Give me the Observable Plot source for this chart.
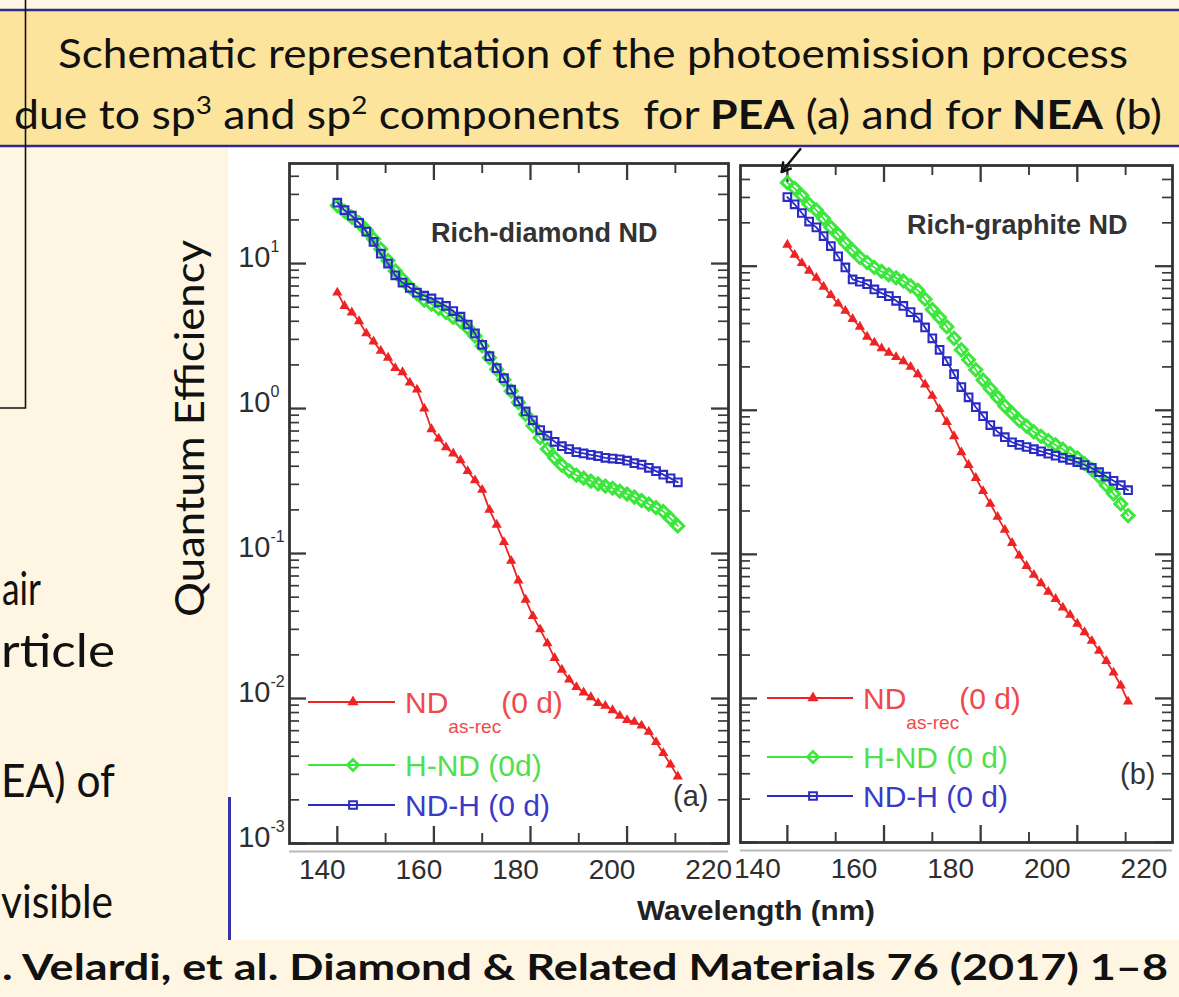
<!DOCTYPE html>
<html>
<head>
<meta charset="utf-8">
<script src="https://cdn.jsdelivr.net/npm/d3@7"></script>
<script src="https://cdn.jsdelivr.net/npm/@observablehq/plot@0.6"></script>
<style>
html, body { margin: 0; padding: 0; }
body { width: 1179px; height: 997px; position: relative; overflow: hidden; background: #FEF6E3; }
svg.layer { position: absolute; left: 0; top: 0; }
.panel { position: absolute; }
</style>
</head>
<body>
<svg id="bg" class="layer" width="1179" height="997"></svg>
<div id="pa" class="panel" style="left:228px; top:148px;"></div>
<div id="pb" class="panel" style="left:738px; top:148px;"></div>
<svg id="fg" class="layer" width="1179" height="997" style="pointer-events:none"></svg>
<script>
// ---------------- DATA ----------------
const wavelengths = [140, 141.5, 143, 144.5, 146, 147.5, 149, 150.5, 152, 153.5,
  155, 156.5, 158, 159.5, 161, 162.5, 164, 165.5, 167, 168.5,
  170, 171.5, 173, 174.5, 176, 177.5, 179, 180.5, 182, 183.5,
  185, 186.5, 188, 189.5, 191, 192.5, 194, 195.5, 197, 198.5,
  200, 201.5, 203, 204.5, 206, 207.5, 209, 210.5];

// Panel (a) Rich-diamond ND
const ndAsRecA = [6.3, 5.1, 4.6, 4.0, 3.3, 2.9, 2.5, 2.24, 1.9, 1.78,
  1.51, 1.35, 1.0, 0.72, 0.62, 0.54, 0.49, 0.44, 0.37, 0.32,
  0.275, 0.20, 0.158, 0.12, 0.089, 0.065, 0.048, 0.037, 0.030, 0.024,
  0.019, 0.0158, 0.0135, 0.012, 0.011, 0.0102, 0.0093, 0.0089, 0.0083, 0.0076,
  0.0071, 0.0069, 0.0065, 0.0059, 0.0050, 0.0042, 0.0035, 0.0029];
const hNdA = [25.1, 22.9, 20.9, 19.1, 17.0, 14.8, 12.6, 10.5, 8.9, 7.8,
  6.9, 6.2, 5.6, 5.25, 4.9, 4.6, 4.25, 4.0, 3.6, 3.16,
  2.7, 2.24, 1.86, 1.58, 1.32, 1.10, 0.91, 0.76, 0.63, 0.525,
  0.457, 0.407, 0.372, 0.347, 0.331, 0.316, 0.302, 0.292, 0.282, 0.269,
  0.257, 0.245, 0.232, 0.219, 0.207, 0.195, 0.174, 0.155];
const ndHA = [26.3, 23.4, 21.4, 19.1, 16.6, 14.1, 11.7, 10.0, 8.3, 7.4,
  6.8, 6.3, 6.0, 5.75, 5.4, 5.1, 4.7, 4.3, 3.8, 3.3,
  2.75, 2.3, 1.9, 1.62, 1.35, 1.12, 0.955, 0.83, 0.71, 0.65,
  0.59, 0.55, 0.525, 0.50, 0.49, 0.48, 0.47, 0.457, 0.452, 0.447,
  0.437, 0.42, 0.41, 0.39, 0.37, 0.35, 0.33, 0.31];

// Panel (b) Rich-graphite ND
const ndAsRecB = [14.1, 12.0, 10.5, 9.3, 8.3, 7.2, 6.3, 5.5, 4.9, 4.3,
  3.8, 3.24, 2.95, 2.69, 2.51, 2.34, 2.19, 2.0, 1.78, 1.51,
  1.26, 1.02, 0.83, 0.66, 0.51, 0.417, 0.339, 0.275, 0.224, 0.182,
  0.148, 0.120, 0.098, 0.083, 0.072, 0.063, 0.055, 0.049, 0.0427, 0.038,
  0.033, 0.0288, 0.0251, 0.0214, 0.0182, 0.0151, 0.0123, 0.0095];
const hNdB = [38.0, 34.7, 30.9, 26.9, 24.5, 21.4, 18.6, 16.6, 14.5, 12.9,
  11.5, 10.6, 9.8, 9.2, 8.7, 8.3, 7.9, 7.3, 6.8, 5.9,
  5.0, 4.4, 3.8, 3.16, 2.63, 2.24, 1.91, 1.62, 1.41, 1.23,
  1.07, 0.955, 0.85, 0.776, 0.708, 0.66, 0.617, 0.575, 0.537, 0.50,
  0.468, 0.427, 0.389, 0.347, 0.302, 0.263, 0.224, 0.186];
const ndHB = [30.2, 26.9, 23.4, 20.4, 18.6, 16.2, 13.8, 11.7, 9.8, 8.1,
  7.8, 7.5, 6.9, 6.5, 6.2, 5.75, 5.3, 4.8, 4.4, 3.76,
  3.16, 2.63, 2.19, 1.78, 1.45, 1.23, 1.05, 0.91, 0.79, 0.71,
  0.65, 0.60, 0.575, 0.556, 0.537, 0.519, 0.50, 0.484, 0.468, 0.452,
  0.437, 0.417, 0.398, 0.372, 0.347, 0.324, 0.302, 0.279];

const xMajorTicks = [140, 160, 180, 200];
const xMinorTicks = [150, 170, 190, 210];
const xTickLabels = [140, 160, 180, 200, 220];
const yDecades = [0.001, 0.01, 0.1, 1, 10];

const panelTitles = ["Rich-diamond ND", "Rich-graphite ND"];
const panelTags = ["(a)", "(b)"];
const legendA = [["ND", "as-rec", "(0 d)"], ["H-ND (0d)"], ["ND-H (0 d)"]];
const legendB = [["ND", "as-rec", "(0 d)"], ["H-ND (0 d)"], ["ND-H (0 d)"]];
const xAxisLabel = "Wavelength (nm)";
const yAxisLabel = "Quantum Efficiency";
const bannerLine1 = "Schematic representation of the photoemission process";
const citation = ". Velardi, et al. Diamond & Related Materials 76 (2017) 1\u20138";
const leftFragments = ["air", "rticle", "EA) of", "visible"];
// arrow annotation in panel (b): [x1, y1, x2, y2]
const arrowB = [{x1: 142.7, y1: 65, x2: 138.8, y2: 45}];

// ---------------- STYLE ----------------
const RED = "#ee2424", GREEN = "#3ce63c", BLUE = "#2a2ac4";
const RED_T = "#ee4a4a", GREEN_T = "#4fe04f", BLUE_T = "#3a3ac8";
const DIAMOND = d3.symbolDiamond2 || d3.symbolDiamond;
const AXIS_FONT = "'Liberation Sans', Arial, Helvetica, sans-serif";
const SLIDE_FONT = "Lato, 'Open Sans', sans-serif";

const yMinorTicks = [];
for (const d of yDecades) for (let k = 2; k <= 9; k++) yMinorTicks.push(d * k);

function seriesOf(vals) { return wavelengths.map((w, i) => ({w, v: vals[i]})); }

function makePanel(cfg) {
  const {width, height, mL, mR, mT, mB, xDomain, yDomain, red, green, blue,
    title, titleDx, titleDy, tag, tagDx, tagDy, labelDx, yLabels, extra = []} = cfg;
  const iw = width - mL - mR, ih = height - mT - mB;
  const majorLen = 17, minorLen = 10;
  const tk = "#3a3a3a";
  const yMin = yMinorTicks.filter(d => d < yDomain[1]);
  const marks = [
    Plot.tickY(yMin, {y: d => d, insetRight: iw - minorLen, stroke: tk, strokeWidth: 1.7}),
    Plot.tickY(yMin, {y: d => d, insetLeft: iw - minorLen, stroke: tk, strokeWidth: 1.7}),
    Plot.tickY(yDecades, {y: d => d, insetRight: iw - majorLen, stroke: tk, strokeWidth: 2.3}),
    Plot.tickY(yDecades, {y: d => d, insetLeft: iw - majorLen, stroke: tk, strokeWidth: 2.3}),
    Plot.tickX(xMajorTicks, {x: d => d, insetTop: ih - majorLen, stroke: tk, strokeWidth: 2.3}),
    Plot.tickX(xMajorTicks, {x: d => d, insetBottom: ih - majorLen, stroke: tk, strokeWidth: 2.3}),
    Plot.tickX(xMinorTicks, {x: d => d, insetTop: ih - minorLen, stroke: tk, strokeWidth: 1.9}),
    Plot.tickX(xMinorTicks, {x: d => d, insetBottom: ih - minorLen, stroke: tk, strokeWidth: 1.9}),
    Plot.ruleY([yDomain[0]], {dy: 8, stroke: "#b8b8b8", strokeWidth: 2}),
    Plot.frame({stroke: "#333", strokeWidth: 2.8}),
    Plot.text(xTickLabels, {x: d => d, text: d => String(d), frameAnchor: "bottom", dy: 35, dx: labelDx,
      fontSize: 28, fill: "#2e2e2e"}),
    Plot.text([title], {text: d => d, frameAnchor: "top-right", textAnchor: "end", dx: titleDx, dy: titleDy,
      fontSize: 27, fontWeight: "bold", fill: "#333"}),
    Plot.text([tag], {text: d => d, frameAnchor: "bottom-right", textAnchor: "end", dx: tagDx, dy: tagDy,
      fontSize: 29, fill: "#333"}),
    // data
    Plot.line(seriesOf(red), {x: "w", y: "v", stroke: RED, strokeWidth: 1.8}),
    Plot.dot(seriesOf(red), {x: "w", y: "v", symbol: "triangle", fill: RED, r: 3.8}),
    Plot.line(seriesOf(green), {x: "w", y: "v", stroke: GREEN, strokeWidth: 1.8}),
    Plot.dot(seriesOf(green), {x: "w", y: "v", symbol: DIAMOND, fill: "none", stroke: GREEN, strokeWidth: 3, r: 5.4}),
    Plot.line(seriesOf(blue), {x: "w", y: "v", stroke: BLUE, strokeWidth: 1.8}),
    Plot.dot(seriesOf(blue), {x: "w", y: "v", symbol: "square", fill: "none", stroke: BLUE, strokeWidth: 2.1, r: 4.3}),
    ...extra
  ];
  if (yLabels) {
    marks.push(
      Plot.text(yDecades, {y: d => d, text: () => "10", frameAnchor: "left", textAnchor: "end", dx: -19, dy: -6,
        fontSize: 29, fill: "#2e2e2e"}),
      Plot.text(yDecades, {y: d => d, text: d => String(Math.round(Math.log10(d))), frameAnchor: "left",
        textAnchor: "start", dx: -19, dy: -17, fontSize: 16, fill: "#2e2e2e"})
    );
  }
  return Plot.plot({
    width, height,
    marginLeft: mL, marginRight: mR, marginTop: mT, marginBottom: mB,
    x: {domain: xDomain, axis: null},
    y: {type: "log", domain: yDomain, axis: null},
    style: {background: "transparent", overflow: "visible", fontFamily: AXIS_FONT},
    marks
  });
}

document.getElementById("pa").appendChild(makePanel({
  width: 510, height: 790, mL: 61, mR: 10, mT: 15, mB: 95,
  xDomain: [130.1, 221], yDomain: [0.001, 49],
  red: ndAsRecA, green: hNdA, blue: ndHA,
  title: panelTitles[0], titleDx: -71, titleDy: 59,
  tag: panelTags[0], tagDx: -20, tagDy: -38, labelDx: -15, yLabels: true
}));

document.getElementById("pb").appendChild(makePanel({
  width: 441, height: 790, mL: 2, mR: 7, mT: 17, mB: 96,
  xDomain: [130.3, 219.7], yDomain: [0.001, 50],
  red: ndAsRecB, green: hNdB, blue: ndHB,
  title: panelTitles[1], titleDx: -45, titleDy: 49,
  tag: panelTags[1], tagDx: -17, tagDy: -59, labelDx: -30, yLabels: false,
  extra: [Plot.arrow(arrowB, {x1: "x1", y1: "y1", x2: "x2", y2: "y2", stroke: "#111", strokeWidth: 2.4, headLength: 12})]
}));

// ---------------- SLIDE BACKGROUND ----------------
const bg = d3.select("#bg");
bg.append("rect").attr("width", 1179).attr("height", 997).attr("fill", "#FEF6E3");
bg.append("rect").attr("x", 228).attr("y", 147).attr("width", 951).attr("height", 793).attr("fill", "#ffffff");
bg.append("rect").attr("x", 0).attr("y", 10).attr("width", 1179).attr("height", 137).attr("fill", "#FCE49D");
bg.append("line").attr("x1", 0).attr("x2", 1179).attr("y1", 10).attr("y2", 10).attr("stroke", "#2f2b86").attr("stroke-width", 2.5);
bg.append("line").attr("x1", 0).attr("x2", 1179).attr("y1", 146).attr("y2", 146).attr("stroke", "#2f2b86").attr("stroke-width", 2.5);

bg.append("text").attr("x", 58).attr("y", 68).attr("font-family", SLIDE_FONT).attr("font-size", 40)
  .attr("fill", "#111").attr("textLength", 1070).attr("lengthAdjust", "spacingAndGlyphs").text(bannerLine1);

const l2 = bg.append("text").attr("x", 14).attr("y", 129).attr("font-family", SLIDE_FONT).attr("font-size", 40)
  .attr("fill", "#111").attr("textLength", 1148).attr("lengthAdjust", "spacingAndGlyphs").style("white-space", "pre");
l2.append("tspan").text("due to sp");
l2.append("tspan").attr("dy", -15).attr("font-size", 25).text("3");
l2.append("tspan").attr("dy", 15).text(" and sp");
l2.append("tspan").attr("dy", -15).attr("font-size", 25).text("2");
l2.append("tspan").attr("dy", 15).text(" components  for ");
l2.append("tspan").attr("font-weight", "bold").text("PEA");
l2.append("tspan").text(" (a) and for ");
l2.append("tspan").attr("font-weight", "bold").text("NEA");
l2.append("tspan").text(" (b)");

// left text fragments: [left, right, baseline] — fitted into the visible span
const fragPos = [[2, 41, 605], [1, 115, 667], [1, 115, 797], [1, 113, 918]];
leftFragments.forEach((t, i) => {
  const [x0, x1, yb] = fragPos[i];
  bg.append("text").attr("x", x0).attr("y", yb)
    .attr("font-family", SLIDE_FONT).attr("font-size", 46).attr("fill", "#111")
    .attr("textLength", x1 - x0).attr("lengthAdjust", "spacingAndGlyphs").text(t);
});

bg.append("text").attr("transform", "translate(204,617) rotate(-90)").attr("font-family", SLIDE_FONT)
  .attr("font-size", 41).attr("fill", "#111").attr("textLength", 377).attr("lengthAdjust", "spacingAndGlyphs")
  .text(yAxisLabel);

bg.append("text").attr("x", 2).attr("y", 980).attr("font-family", SLIDE_FONT).attr("font-weight", "bold")
  .attr("font-size", 37).attr("fill", "#111").attr("textLength", 1166).attr("lengthAdjust", "spacingAndGlyphs")
  .text(citation);

bg.append("line").attr("x1", 229.5).attr("x2", 229.5).attr("y1", 797).attr("y2", 940).attr("stroke", "#3434a8").attr("stroke-width", 3);

// ---------------- FOREGROUND ----------------
const fg = d3.select("#fg");
fg.append("path").attr("d", "M25.5,0 V408 H0").attr("fill", "none").attr("stroke", "#111").attr("stroke-width", 1.6);

fg.append("text").attr("x", 637).attr("y", 920).attr("font-family", AXIS_FONT).attr("font-weight", "bold")
  .attr("font-size", 28).attr("fill", "#222").attr("textLength", 238).attr("lengthAdjust", "spacingAndGlyphs")
  .text(xAxisLabel);

function legend(rows, ys, xl0, xl1, xm, xt) {
  const sty = [
    {c: RED, tc: RED_T, sym: d3.symbolTriangle, size: 55, fill: RED, stroke: "none", sw: 0},
    {c: GREEN, tc: GREEN_T, sym: DIAMOND, size: 80, fill: "none", stroke: GREEN, sw: 2.6},
    {c: BLUE, tc: BLUE_T, sym: d3.symbolSquare, size: 60, fill: "none", stroke: BLUE, sw: 2}
  ];
  rows.forEach((parts, i) => {
    const s = sty[i], y = ys[i];
    fg.append("line").attr("x1", xl0).attr("x2", xl1).attr("y1", y).attr("y2", y).attr("stroke", s.c).attr("stroke-width", 1.8);
    fg.append("path").attr("d", d3.symbol(s.sym, s.size)()).attr("transform", `translate(${xm},${y})`)
      .attr("fill", s.fill).attr("stroke", s.stroke).attr("stroke-width", s.sw);
    const t = fg.append("text").attr("x", xt).attr("y", y + 11).attr("font-family", AXIS_FONT)
      .attr("font-size", 30).attr("fill", s.tc).style("white-space", "pre");
    t.append("tspan").text(parts[0]);
    if (parts.length > 1) {
      t.append("tspan").attr("dy", 20).attr("font-size", 19).text(parts[1]);
      t.append("tspan").attr("dy", -20).text(parts[2]);
    }
  });
}
legend(legendA, [702, 765, 805], 308, 395, 353, 405);
legend(legendB, [698, 757, 796], 767, 853, 813, 863);
</script>
</body>
</html>
